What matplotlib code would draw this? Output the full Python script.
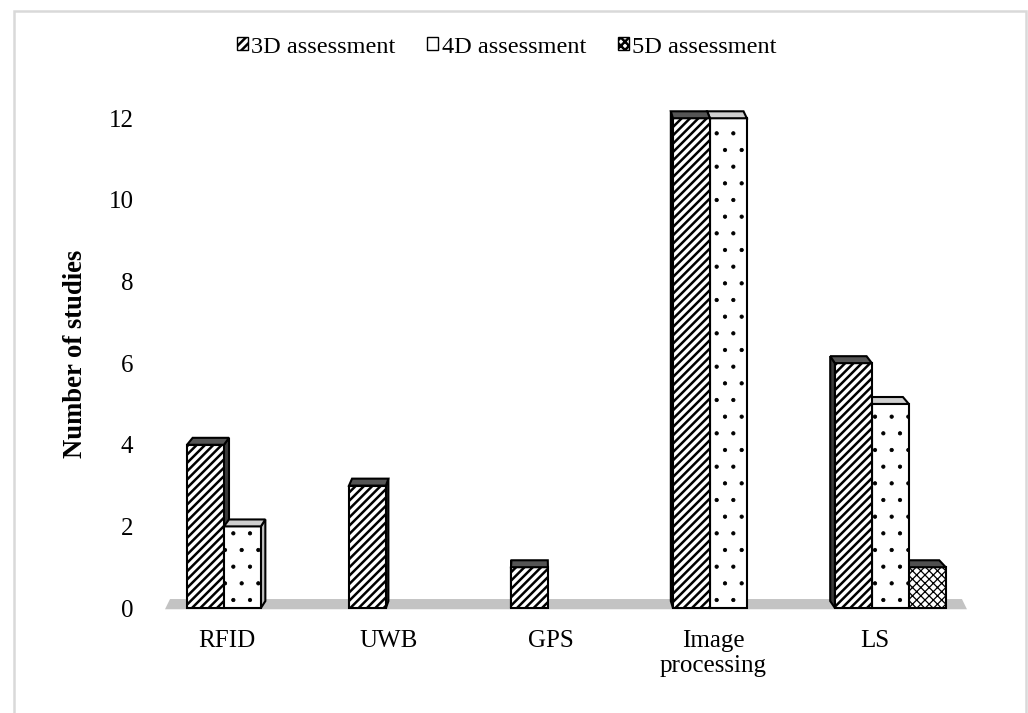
import matplotlib.pyplot as plt
from matplotlib.patches import Patch, Polygon, Rectangle

categories = ['RFID', 'UWB', 'GPS', 'Image\nprocessing', 'LS']
series_names = ['3D assessment', '4D assessment', '5D assessment']
assess_3d = [4, 3, 1, 12, 6]
assess_4d = [2, 0, 0, 12, 5]
assess_5d = [0, 0, 0, 0, 1]
y_ticks = [0, 2, 4, 6, 8, 10, 12]

plt.rcParams['font.family'] = ['Liberation Serif', 'DejaVu Serif']
plt.rcParams['hatch.linewidth'] = 1.8

# face styles per series: front hatch, hatch weight, top/side shading
STYLES = [
    {'hatch': '////', 'hlw': 1.8, 'top': '#555555', 'side': '#3a3a3a'},
    {'hatch': '.', 'hlw': 0.6, 'top': '#cfcfcf', 'side': '#bfbfbf'},
    {'hatch': 'xxxx', 'hlw': 0.9, 'top': '#4f4f4f', 'side': '#6a6a6a'},
]

BAR_W = 0.228
GROUP_OFFSET = -0.247
VANISH_X = 1.93
PERSPECTIVE = 0.016
DEPTH = 0.17


def set_hatch_lw(patch, lw):
    if hasattr(patch, 'set_hatch_linewidth'):
        patch.set_hatch_linewidth(lw)


def draw_bar(ax, left, height, style, z):
    """Front face through ax.bar, plus a shaded top and one side face."""
    bar = ax.bar(left, height, BAR_W, align='edge', facecolor='white',
                 edgecolor='black', linewidth=1.5, hatch=style['hatch'],
                 zorder=z)[0]
    set_hatch_lw(bar, style['hlw'])
    right = left + BAR_W
    sl = (VANISH_X - left) * PERSPECTIVE
    sr = (VANISH_X - right) * PERSPECTIVE
    top = [(left, height), (right, height),
           (right + sr, height + DEPTH), (left + sl, height + DEPTH)]
    ax.add_patch(Polygon(top, closed=True, facecolor=style['top'],
                         edgecolor='black', linewidth=1.5, zorder=z))
    if sr > 0:
        side = [(right, 0), (right + sr, DEPTH),
                (right + sr, height + DEPTH), (right, height)]
    else:
        side = [(left, 0), (left + sl, DEPTH),
                (left + sl, height + DEPTH), (left, height)]
    ax.add_patch(Polygon(side, closed=True, facecolor=style['side'],
                         edgecolor='black', linewidth=1.5, zorder=z - 0.01))


fig = plt.figure(figsize=(10.28, 7.13), dpi=100)
ax = fig.add_axes([0.146, 0.1304, 0.817, 0.757])
ax.set_xlim(-0.475, 4.71)
ax.set_ylim(-0.294, 12.93)

# grey floor under the bars
n = len(categories)
floor = [(-0.383, -0.03), (n - 1 + 0.568, -0.03),
         (n - 1 + 0.537, 0.22), (-0.352, 0.22)]
ax.add_patch(Polygon(floor, closed=True, facecolor='#c3c3c3',
                     edgecolor='none', zorder=1))

series = [assess_3d, assess_4d, assess_5d]
for i in range(n):
    for s, values in enumerate(series):
        h = values[i]
        if h <= 0:
            continue
        left = i + GROUP_OFFSET + s * BAR_W
        z = 5 - abs(left + BAR_W / 2 - VANISH_X)
        draw_bar(ax, left, h, STYLES[s], z)

ax.set_xticks(range(n))
ax.set_xticklabels(categories, fontsize=18)
ax.set_yticks(y_ticks)
ax.set_yticklabels([str(v) for v in y_ticks], fontsize=18)
ax.tick_params(axis='both', length=0)
ax.tick_params(axis='y', pad=12)
ax.tick_params(axis='x', pad=7)
for spine in ax.spines.values():
    spine.set_visible(False)

ax.set_ylabel('Number of studies', fontsize=19.2, fontweight='bold')
ax.yaxis.set_label_coords(-0.074, 0.493)

handles = []
for s, name in enumerate(series_names):
    p = Patch(facecolor='white', edgecolor='black', linewidth=1.0,
              hatch=STYLES[s]['hatch'], label=name)
    set_hatch_lw(p, STYLES[s]['hlw'])
    handles.append(p)
ax.legend(handles=handles, loc='center', bbox_to_anchor=(0.493, 0.934),
          bbox_transform=fig.transFigure, ncol=3, frameon=False,
          fontsize=17.5, handlelength=0.45, handleheight=0.45,
          handletextpad=0.15, columnspacing=1.3)

# light grey frame around the chart area
fig.add_artist(Rectangle((13.5 / 1028, -0.2), (1025.5 - 13.5) / 1028,
                         1.2 - 10.5 / 713, transform=fig.transFigure,
                         facecolor='none', edgecolor='#d9d9d9',
                         linewidth=1.8, clip_on=False))

fig.savefig('out.png', dpi=100)
